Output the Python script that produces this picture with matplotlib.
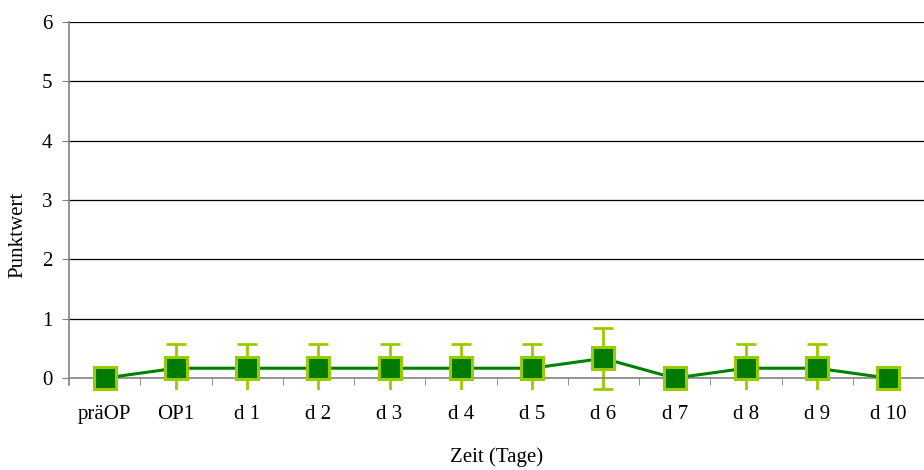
import numpy as np
import matplotlib.pyplot as plt
from matplotlib.ticker import FixedLocator

plt.rcParams['font.family'] = ['Liberation Serif', 'DejaVu Serif']

# Daten
tage = ['präOP', 'OP1', 'd 1', 'd 2', 'd 3', 'd 4', 'd 5', 'd 6', 'd 7', 'd 8', 'd 9', 'd 10']
mittel = [0, 0.167, 0.167, 0.167, 0.167, 0.167, 0.167, 0.333, 0, 0.167, 0.167, 0]
sd = [0, 0.408, 0.408, 0.408, 0.408, 0.408, 0.408, 0.516, 0, 0.408, 0.408, 0]

x = np.arange(len(tage))

fig = plt.figure(figsize=(9.24, 4.70), dpi=100)
ax = fig.add_axes([69/924, 1-390/470, 1-69/924, 368/470])

for yy in range(1, 7):
    ax.axhline(yy, color='black', lw=0.9, zorder=1)

# Fehlerbalken (nur wo sd > 0)
for xi, m, s in zip(x, mittel, sd):
    if s > 0:
        ax.errorbar(xi, m, yerr=s, fmt='none', ecolor='#99CC00', elinewidth=2,
                    capsize=7, capthick=2, zorder=2)

ax.plot(x, mittel, color='#008000', lw=2.2, marker='s', markersize=16,
        markerfacecolor='#007A00', markeredgecolor='#99CC00', markeredgewidth=2.2,
        zorder=3)

ax.set_xlim(-0.5, len(tage) - 0.5)
ax.set_ylim(-0.2, 6)
ax.spines['bottom'].set_position(('data', 0))
ax.spines['top'].set_visible(False)
ax.spines['right'].set_visible(False)
ax.spines['left'].set_bounds(-0.12, 6)
for s in ['bottom', 'left']:
    ax.spines[s].set_color('#808080')
    ax.spines[s].set_linewidth(1.2)

ax.set_yticks(range(0, 7))
ax.tick_params(axis='y', length=5, color='#808080', labelsize=15, pad=7)

ax.set_xticks(x)
ax.set_xticklabels(tage)
ax.xaxis.set_minor_locator(FixedLocator(np.arange(0.5, len(tage) - 0.5, 1)))
ax.tick_params(axis='x', which='major', length=0, labelsize=15, pad=19)
ax.tick_params(axis='x', which='minor', length=5, color='#808080')

fig.text(497/924, 1-457/470, 'Zeit (Tage)', ha='center', va='center', fontsize=15)
fig.text(18/924, 1-235/470, 'Punktwert', ha='center', va='center', rotation=90, fontsize=15)

fig.savefig('out.png', dpi=100)
